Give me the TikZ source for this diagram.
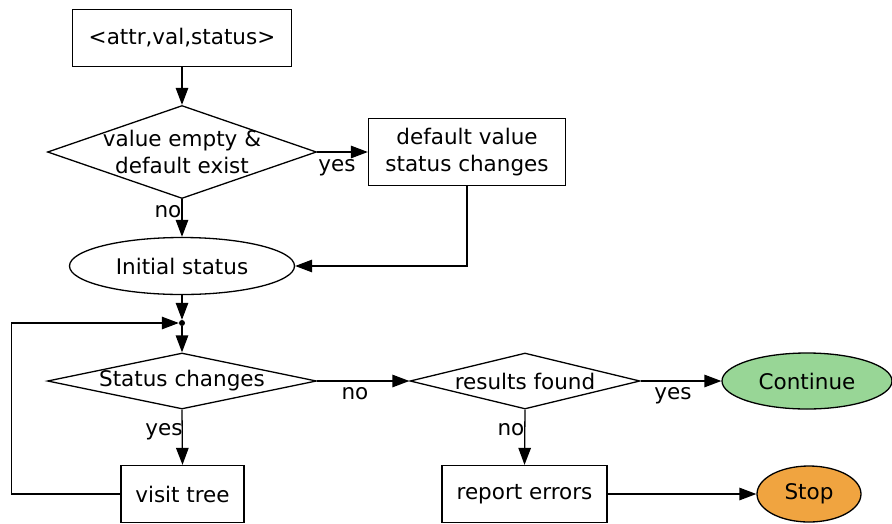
\documentclass[tikz,border=0pt]{standalone}
\usepackage{fontspec}
\setmainfont{DejaVu Sans}
\usetikzlibrary{shapes.geometric,arrows.meta}
\definecolor{contgreen}{RGB}{152,214,150}
\definecolor{stoporange}{RGB}{240,164,64}
\tikzset{
  flow/.style={line width=1.3pt, -{Triangle[length=17pt,width=12.5pt]}},
  procbox/.style={draw, line width=1.3pt, rectangle, inner sep=0pt, align=center},
  decision/.style={draw, line width=1.3pt, diamond, inner sep=0pt, align=center},
  terminal/.style={draw, line width=1.3pt, ellipse, inner sep=0pt, align=center},
  edgelabel/.style={inner sep=0pt}
}
\begin{document}
\begin{tikzpicture}[x=1pt, y=-1pt, font=\fontsize{21.5}{27}\selectfont]
\useasboundingbox (0,0) rectangle (892,523);

% nodes
\node[procbox, minimum width=219pt, minimum height=57pt] (input) at (182,38) {<attr,val,status>};
\node[decision, aspect=2.89, inner sep=-6pt, minimum width=269pt, minimum height=93pt] (dflt) at (182,152) {value empty \&\\default exist};
\node[procbox, minimum width=197pt, minimum height=67pt] (setdef) at (467,152) {default value\\status changes};
\node[terminal, minimum width=225pt, minimum height=57pt] (init) at (182,266) {Initial status};
\node[circle, fill=black, inner sep=0pt, minimum size=6pt] (join) at (182,323) {};
\node[decision, aspect=4.8, minimum width=269pt, minimum height=56pt] (chg) at (182,381) {Status changes};
\node[procbox, minimum width=123pt, minimum height=57pt] (visit) at (182.5,494) {visit tree};
\node[decision, aspect=4.1, minimum width=230pt, minimum height=56pt] (found) at (525,381) {results found};
\node[terminal, fill=contgreen, minimum width=170pt, minimum height=56pt] (cont) at (807,381) {Continue};
\node[procbox, minimum width=165pt, minimum height=57pt] (report) at (524.5,494) {report errors};
\node[terminal, fill=stoporange, minimum width=104pt, minimum height=56pt] (stop) at (809,494) {Stop};

% edge labels
\node[edgelabel] (l1) at (337,168) {yes};
\node[edgelabel] (l2) at (168,212) {no};
\node[edgelabel] (l3) at (164,432) {yes};
\node[edgelabel] (l4) at (355,394) {no};
\node[edgelabel] (l5) at (673,396) {yes};
\node[edgelabel] (l6) at (511,430) {no};

% connectors
\draw[flow] (input) -- (dflt);
\draw[flow] (dflt.east) -- (setdef.west);
\draw[flow] (dflt.south) -- (init.north);
\draw[flow] (setdef.south) |- (init.east);
\draw[flow] (init.south) -- (join);
\draw[flow] (join) -- (chg.north);
\draw[flow] (chg.south) -- (visit.north);
\draw[flow] (visit.west) -- ++(-109,0) |- (join.west);
\draw[flow] (chg.east) -- (found.west);
\draw[flow] (found.east) -- (cont.west);
\draw[flow] (found.south) -- (report.north);
\draw[flow] (report.east) -- (stop.west);
\end{tikzpicture}
\end{document}
